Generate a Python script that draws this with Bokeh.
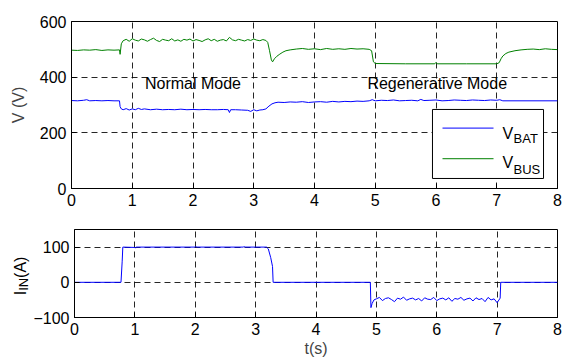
from bokeh.plotting import figure
from bokeh.layouts import column, row
from bokeh.models import Label, FixedTicker, BoxAnnotation, Arrow
from bokeh.embed import file_html
from bokeh.resources import INLINE

FONT = "Liberation Sans"

# ---------------- data ----------------
t_bus = [0.0, 0.1, 0.2, 0.3, 0.4, 0.5, 0.6, 0.7, 0.79, 0.80, 0.82, 0.85, 0.90, 0.95,
         1.00, 1.05, 1.10, 1.15, 1.20, 1.25, 1.30, 1.35, 1.40, 1.45, 1.50, 1.55, 1.60,
         1.65, 1.70, 1.75, 1.80, 1.85, 1.90, 1.95, 2.00, 2.05, 2.10, 2.15, 2.20, 2.25,
         2.30, 2.35, 2.40, 2.45, 2.50, 2.55, 2.60, 2.65, 2.70, 2.75, 2.80, 2.85, 2.90,
         2.95, 3.00, 3.05, 3.10, 3.15, 3.20, 3.23, 3.26, 3.29, 3.31, 3.34, 3.38, 3.43,
         3.48, 3.53, 3.60, 3.70, 3.80, 3.90, 4.00, 4.10, 4.20, 4.30, 4.40, 4.50, 4.60,
         4.70, 4.80, 4.90, 4.94, 4.97, 5.00, 5.50, 5.98, 6.00, 6.02, 6.50, 7.00, 7.04,
         7.07, 7.10, 7.15, 7.20, 7.30, 7.40, 7.50, 7.60, 7.70, 7.80, 7.90, 8.00]
v_bus = [497, 496, 498, 497, 499, 496, 498, 497, 498, 482, 520, 531, 536, 529,
         538, 533, 530, 537, 534, 529, 535, 540, 532, 528, 536, 533, 531,
         538, 530, 534, 529, 536, 533, 537, 530, 535, 532, 528, 534, 538,
         531, 536, 529, 533, 535, 530, 543, 534, 531, 536, 533, 530, 535,
         532, 537, 533, 531, 535, 532, 525, 495, 462, 455, 466, 475, 483,
         490, 495, 498, 501, 503, 500, 502, 499, 503, 500, 502, 500, 503,
         501, 502, 500, 495, 455, 449, 448, 448, 453, 448, 448, 448, 452,
         466, 476, 485, 490, 495, 498, 500, 501, 499, 502, 500, 499]

t_bat = [0.0, 0.1, 0.2, 0.25, 0.3, 0.4, 0.5, 0.6, 0.7, 0.79, 0.80, 0.82, 0.85, 0.90,
         0.95, 1.00, 1.05, 1.10, 1.15, 1.20, 1.30, 1.40, 1.50, 1.60, 1.70, 1.80, 1.90,
         2.00, 2.10, 2.20, 2.30, 2.40, 2.50, 2.58, 2.60, 2.62, 2.70, 2.80, 2.90, 2.95,
         3.00, 3.05, 3.10, 3.15, 3.20, 3.25, 3.30, 3.35, 3.40, 3.50, 3.60, 3.70, 3.80,
         3.90, 4.00, 4.10, 4.20, 4.30, 4.40, 4.50, 4.60, 4.70, 4.80, 4.90, 4.95, 5.00,
         5.10, 5.20, 5.30, 5.40, 5.50, 5.60, 5.70, 5.75, 5.80, 5.90, 6.00, 6.10, 6.20,
         6.30, 6.40, 6.50, 6.60, 6.70, 6.80, 6.90, 7.00, 7.05, 7.10, 8.00]
v_bat = [316, 315, 317, 319, 315, 316, 315, 316, 315, 315, 294, 286, 283, 287,
         282, 286, 283, 288, 284, 286, 283, 285, 283, 284, 283, 285, 283,
         284, 283, 284, 283, 283, 284, 283, 273, 283, 283, 282, 281, 277,
         283, 279, 282, 283, 286, 296, 304, 308, 310, 309, 311, 310, 312,
         309, 311, 312, 310, 313, 311, 313, 312, 314, 313, 315, 319, 315,
         317, 316, 318, 315, 316, 317, 315, 320, 316, 317, 318, 315, 316,
         318, 317, 316, 318, 317, 316, 318, 317, 319, 315, 315]

t_in = [0.0, 0.77, 0.79, 0.80, 1.00, 1.01, 1.02, 2.00, 2.01, 2.02, 2.80, 2.81, 2.82,
        3.18, 3.21, 3.25, 3.28, 3.29, 4.90, 4.91, 4.93, 4.96,
        5.00, 5.05, 5.10, 5.15, 5.20, 5.25, 5.30, 5.35, 5.40, 5.45, 5.50, 5.55, 5.60,
        5.65, 5.70, 5.75, 5.80, 5.85, 5.90, 5.95, 6.00, 6.05, 6.10, 6.15, 6.20, 6.25,
        6.30, 6.35, 6.40, 6.45, 6.50, 6.55, 6.60, 6.65, 6.70, 6.75, 6.80, 6.85, 6.90,
        6.95, 7.00, 7.05, 7.06, 8.00]
i_in = [0, 0, 60, 100, 99, 97, 100, 100, 102, 100, 100, 102, 100,
        100, 95, 70, 45, 0, 0, -72, -60, -50,
        -47, -43, -52, -46, -44, -49, -55, -45, -48, -42, -51, -47, -45,
        -50, -46, -53, -44, -48, -49, -43, -52, -47, -45, -50, -44, -54,
        -46, -48, -43, -51, -47, -45, -53, -44, -49, -46, -55, -43, -50,
        -47, -58, -45, 0, 0]

x_ticks = [0, 1, 2, 3, 4, 5, 6, 7, 8]
v_ticks = [0, 200, 400, 600]
i_ticks = [-100, 0, 100]

series_names = ["BAT", "BUS"]
BLUE = "#0000ff"
GREEN = "#008000"


def style(p, yticks):
    p.outline_line_color = "black"
    p.outline_line_width = 1
    for ax in (p.xaxis[0], p.yaxis[0]):
        ax.major_tick_in = 5
        ax.major_tick_out = 0
        ax.minor_tick_line_color = None
        ax.axis_line_color = "black"
        ax.major_tick_line_color = "black"
        ax.major_label_text_font = FONT
        ax.major_label_text_font_size = "16px"
        ax.major_label_text_color = "black"
        ax.major_label_standoff = 5
    p.xaxis[0].ticker = FixedTicker(ticks=x_ticks)
    p.yaxis[0].ticker = FixedTicker(ticks=yticks)
    p.xgrid.ticker = FixedTicker(ticks=x_ticks)
    p.ygrid.ticker = FixedTicker(ticks=yticks)
    for g in (p.xgrid[0], p.ygrid[0]):
        g.grid_line_color = "black"
        g.grid_line_alpha = 0.85
        g.grid_line_dash = "6 4"
        g.grid_line_width = 1
    p.background_fill_color = "white"
    p.border_fill_color = "white"


# ---------------- top panel ----------------
p1 = figure(width=562, height=212, x_range=(0, 8), y_range=(0, 600),
            output_backend="svg", toolbar_location=None,
            min_border_left=71, min_border_right=5, min_border_top=21,
            min_border_bottom=24)
style(p1, v_ticks)
p1.yaxis[0].axis_label = "V (V)"
p1.yaxis[0].axis_label_text_font = FONT
p1.yaxis[0].axis_label_text_font_size = "16px"
p1.yaxis[0].axis_label_text_font_style = "normal"
p1.yaxis[0].axis_label_standoff = 10

r_bus = p1.line(t_bus, v_bus, line_color=GREEN, line_width=1)
r_bat = p1.line(t_bat, v_bat, line_color=BLUE, line_width=1)

for x, txt in ((2.0, "Normal Mode"), (6.02, "Regenerative Mode")):
    p1.add_layout(Label(x=x, y=377, text=txt, text_font=FONT, text_font_size="16px",
                        text_align="center", text_baseline="middle", text_color="black"))

# legend box (drawn by hand so that the labels can carry subscripts)
p1.add_layout(BoxAnnotation(left=5.942, right=7.770, bottom=36, top=284,
                            fill_color="white", fill_alpha=1.0,
                            line_color="black", line_width=1, line_alpha=1.0))
for name, color, y_line, y_v, y_sub in ((series_names[0], BLUE, 217, 196, 178),
                                         (series_names[1], GREEN, 107, 92, 68)):
    p1.add_layout(Arrow(x_start=6.107, y_start=y_line, x_end=6.947, y_end=y_line,
                        start=None, end=None, line_color=color, line_width=1))
    p1.add_layout(Label(x=7.095, y=y_v, text="V", text_font=FONT, text_font_size="16px",
                        text_align="left", text_baseline="alphabetic", text_color="black"))
    p1.add_layout(Label(x=7.276, y=y_sub, text=name, text_font=FONT, text_font_size="13px",
                        text_align="left", text_baseline="alphabetic", text_color="black"))

# ---------------- bottom panel ----------------
p2 = figure(width=532, height=149, x_range=(0, 8), y_range=(-100, 150),
            output_backend="svg", toolbar_location=None,
            min_border_left=41, min_border_right=5, min_border_top=17,
            min_border_bottom=44)
style(p2, i_ticks)
p2.line(t_in, i_in, line_color=BLUE, line_width=1)
p2.xaxis[0].axis_label = "t(s)"
p2.xaxis[0].axis_label_text_font = FONT
p2.xaxis[0].axis_label_text_font_size = "16px"
p2.xaxis[0].axis_label_text_font_style = "normal"
p2.xaxis[0].axis_label_standoff = 2

# narrow strip holding the rotated I_IN (A) label (pixel-valued x range)
lf = figure(width=30, height=149, x_range=(0, 30), y_range=(-100, 150),
            output_backend="svg", toolbar_location=None,
            x_axis_location=None, y_axis_location=None,
            min_border_left=0, min_border_right=0, min_border_top=17,
            min_border_bottom=44)
lf.grid.visible = False
lf.outline_line_color = None
lf.background_fill_color = "white"
lf.border_fill_color = "white"
for x, y, txt, fs in ((19.5, -36.6, "I", "16px"), (23, -24.2, "IN", "13px"),
                      (19.5, 12.4, "(A)", "16px")):
    lf.add_layout(Label(x=x, y=y, text=txt, angle=90, angle_units="deg", text_font=FONT,
                        text_font_size=fs, text_align="left", text_baseline="alphabetic",
                        text_color="black"))

layout = column(p1, row(lf, p2, spacing=0), spacing=0)
open("out.html", "w").write(file_html(layout, INLINE))
